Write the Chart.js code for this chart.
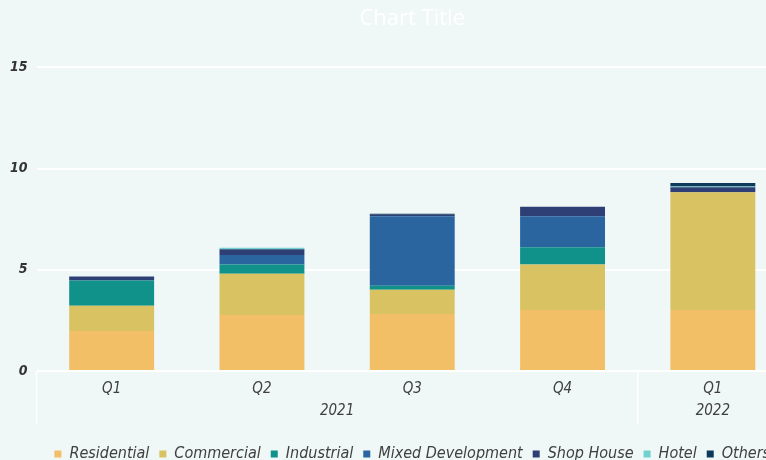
<!DOCTYPE html>
<html>
<head>
<meta charset="utf-8">
<script src="https://cdn.jsdelivr.net/npm/chart.js@4/dist/chart.umd.min.js"></script>
<style>
  html, body { margin: 0; padding: 0; background: #eff8f6; overflow: hidden; }
  #wrap { width: 788px; height: 460px; }
</style>
</head>
<body>
<div id="wrap"><canvas id="c" width="788" height="460"></canvas></div>
<script>
// Quarterly values by property type
const quarters = ['Q1', 'Q2', 'Q3', 'Q4', 'Q1'];
const years = ['2021', '2021', '2021', '2021', '2022'];

const residential = [1.98, 2.77, 2.82, 3.02, 3.02];
const commercial  = [1.24, 2.03, 1.19, 2.24, 5.81];
const industrial  = [1.25, 0.46, 0.20, 0.86, 0.00];
const mixedDev    = [0.00, 0.47, 3.43, 1.52, 0.00];
const shopHouse   = [0.20, 0.28, 0.08, 0.48, 0.25];
const hotel       = [0.00, 0.08, 0.00, 0.00, 0.03];
const others      = [0.00, 0.00, 0.05, 0.00, 0.18];

const yTicks = [0, 5, 10, 15];

const FONT = '"Liberation Sans Narrow", "DejaVu Sans Condensed", "Roboto", sans-serif';
const TEXT = '#404040';

const series = [
  ['Residential', residential, '#f2bf66'],
  ['Commercial', commercial, '#d9c262'],
  ['Industrial', industrial, '#10928b'],
  ['Mixed Development', mixedDev, '#2a65a0'],
  ['Shop House', shopHouse, '#2d3f74'],
  ['Hotel', hotel, '#70d2cf'],
  ['Others', others, '#0d3a5a']
];

// Year row and group separators under the quarter labels
const yearGroups = {
  id: 'yearGroups',
  afterDraw(chart) {
    const { ctx, chartArea, scales } = chart;
    const x = scales.x;
    const top = chartArea.bottom;
    const groups = [];
    years.forEach((y, i) => {
      const g = groups[groups.length - 1];
      if (g && g.year === y) g.end = i; else groups.push({ year: y, start: i, end: i });
    });
    const half = (x.getPixelForValue(1) - x.getPixelForValue(0)) / 2;
    ctx.save();
    ctx.strokeStyle = 'rgba(255,255,255,0.95)';
    ctx.lineWidth = 1.5;
    ctx.fillStyle = TEXT;
    ctx.font = 'italic 15px ' + FONT;
    ctx.textAlign = 'center';
    ctx.textBaseline = 'middle';
    groups.forEach(g => {
      const left = x.getPixelForValue(g.start) - half;
      const right = x.getPixelForValue(g.end) + half;
      ctx.beginPath();
      ctx.moveTo(left, top);
      ctx.lineTo(left, top + 53);
      ctx.stroke();
      ctx.fillText(g.year, (left + right) / 2, top + 40);
    });
    ctx.restore();
  }
};

new Chart(document.getElementById('c'), {
  type: 'bar',
  data: {
    labels: quarters,
    datasets: series.map(([label, data, color]) => ({
      label, data,
      backgroundColor: color,
      borderWidth: 0,
      barPercentage: 0.565,
      categoryPercentage: 1
    }))
  },
  options: {
    responsive: false,
    animation: false,
    layout: { padding: { left: 0, right: 0, top: 0, bottom: -12 } },
    plugins: {
      title: {
        display: true,
        fullSize: false,
        text: 'Chart Title',
        color: '#ffffff',
        font: { family: '"Open Sans", sans-serif', size: 22, weight: 'normal' },
        padding: { top: 6, bottom: 35 }
      },
      legend: {
        position: 'bottom',
        fullSize: false,
        labels: {
          color: TEXT,
          font: { family: FONT, size: 16, style: 'italic' },
          boxWidth: 7,
          boxHeight: 7,
          padding: 10
        }
      },
      tooltip: { enabled: false }
    },
    scales: {
      x: {
        stacked: true,
        grid: { display: false },
        border: { display: false },
        ticks: {
          color: TEXT,
          font: { family: FONT, size: 15, style: 'italic' },
          padding: 1,
          maxRotation: 0
        },
        afterFit(s) { s.height = 65; }
      },
      y: {
        stacked: true,
        min: 0,
        max: 15,
        afterBuildTicks(s) { s.ticks = yTicks.map(v => ({ value: v })); },
        grid: { color: '#ffffff', lineWidth: 2, drawTicks: false },
        border: { display: false },
        ticks: {
          color: '#333333',
          font: { family: FONT, size: 14, style: 'italic', weight: 'bold' },
          padding: 9
        },
        afterFit(s) { s.width = 36.5; }
      }
    }
  },
  plugins: [yearGroups]
});
</script>
</body>
</html>
